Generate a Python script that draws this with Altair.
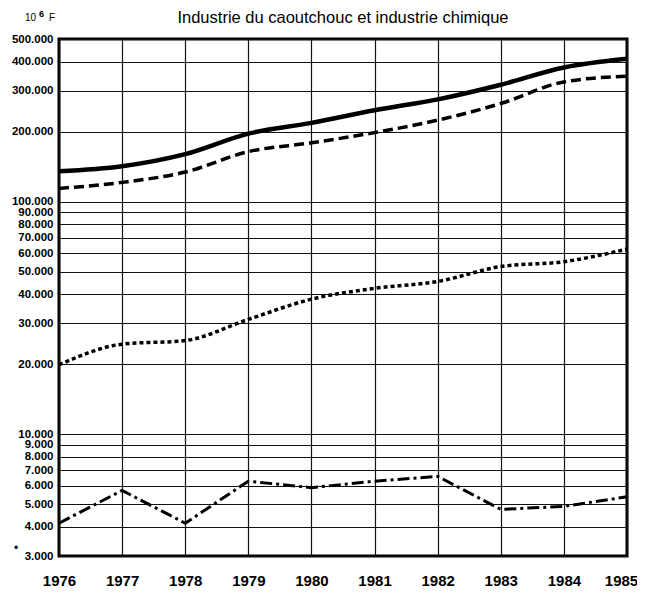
import altair as alt
import pandas as pd

years = [1976, 1977, 1978, 1979, 1980, 1981, 1982, 1983, 1984, 1985]
serie_trait_plein = [135000, 142000, 160000, 196000, 218000, 247000, 275000, 318000, 377000, 411000]
serie_tirets = [114000, 121000, 134000, 164000, 179000, 198000, 224000, 264000, 327000, 346000]
serie_pointillee = [19900, 24400, 25300, 31200, 38100, 42400, 45400, 52600, 55200, 62500]
serie_mixte = [4150, 5740, 4150, 6290, 5900, 6290, 6600, 4760, 4900, 5390]

y_ticks = [3000, 4000, 5000, 6000, 7000, 8000, 9000, 10000,
           20000, 30000, 40000, 50000, 60000, 70000, 80000, 90000, 100000,
           200000, 300000, 400000, 500000]

titre = "Industrie du caoutchouc et industrie chimique"
FONT = "Liberation Sans"

rows = []
for name, vals in [("plein", serie_trait_plein), ("tirets", serie_tirets),
                   ("points", serie_pointillee), ("mixte", serie_mixte)]:
    for yr, v in zip(years, vals):
        rows.append({"annee": yr, "valeur": v, "serie": name})
df = pd.DataFrame(rows)

x_enc = alt.X("annee:Q",
              scale=alt.Scale(domain=[1976, 1985], nice=False, zero=False),
              axis=alt.Axis(values=years, format="d", title=None, labelFlush=False,
                            labelOffset={"condition": {"test": "datum.value == 1985", "value": -6}, "value": 0},
                            labelFontSize=15, labelFontWeight="bold", labelFont=FONT,
                            labelColor="black", labelPadding=17, grid=True,
                            gridColor="#111", gridWidth=1.2, domain=False, ticks=False))
y_enc = alt.Y("valeur:Q",
              scale=alt.Scale(type="log", domain=[3000, 500000], nice=False),
              axis=alt.Axis(values=y_ticks, title=None, labelFlush=False, labelOverlap=False,
                            labelExpr="replace(format(datum.value, ','), ',', '.')",
                            labelFontSize=11.5, labelFontWeight="bold", labelFont=FONT,
                            labelColor="black", labelPadding=6, grid=True,
                            gridColor="#111", gridWidth=1.2, domain=False, ticks=False))

base = alt.Chart(df).encode(x=x_enc, y=y_enc)

l_plein = base.transform_filter(alt.datum.serie == "plein").mark_line(
    color="black", strokeWidth=4.5, interpolate="monotone")
l_tirets = base.transform_filter(alt.datum.serie == "tirets").mark_line(
    color="black", strokeWidth=3.5, strokeDash=[10, 5], interpolate="monotone")
l_points = base.transform_filter(alt.datum.serie == "points").mark_line(
    color="black", strokeWidth=3.5, strokeDash=[4, 3], interpolate="monotone")
l_mixte = base.transform_filter(alt.datum.serie == "mixte").mark_line(
    color="black", strokeWidth=3, strokeDash=[12, 4, 3, 4])

one = pd.DataFrame({"k": [0]})
t_title = alt.Chart(one).mark_text(text=titre, font=FONT, fontSize=16.5, color="black",
                                   align="center", baseline="alphabetic").encode(
    x=alt.value(284), y=alt.value(-16))
t_10 = alt.Chart(one).mark_text(text="10", font=FONT, fontSize=10, color="black",
                                align="left", baseline="alphabetic").encode(
    x=alt.value(-34), y=alt.value(-18))
t_6 = alt.Chart(one).mark_text(text="6", font=FONT, fontSize=9, fontWeight="bold", color="black",
                               align="left", baseline="alphabetic").encode(
    x=alt.value(-20), y=alt.value(-22))
t_F = alt.Chart(one).mark_text(text="F", font=FONT, fontSize=10, color="black",
                               align="left", baseline="alphabetic").encode(
    x=alt.value(-10), y=alt.value(-18))
t_dot = alt.Chart(one).mark_text(text="•", font=FONT, fontSize=12, color="black",
                                 align="center", baseline="middle").encode(
    x=alt.value(-43), y=alt.value(509))

chart = alt.layer(l_plein, l_tirets, l_points, l_mixte, t_title, t_10, t_6, t_F, t_dot).properties(
    width=568, height=517,
    padding={"left": 51, "top": 31, "right": 10, "bottom": 32},
    autosize=alt.AutoSizeParams(type="none"),
    background="white",
).configure_view(stroke="black", strokeWidth=3)

chart.save("out.html", embed_options={"renderer": "svg", "actions": False})
